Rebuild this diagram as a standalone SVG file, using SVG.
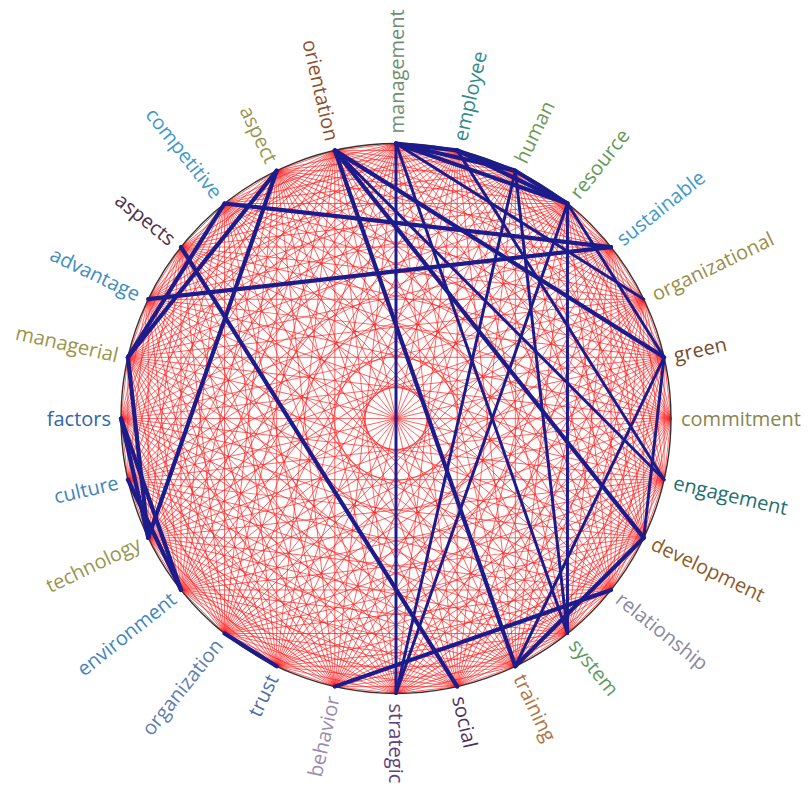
<svg xmlns="http://www.w3.org/2000/svg" xmlns:xlink="http://www.w3.org/1999/xlink" width="809" height="788" viewBox="0 0 809 788">
<style>
.mesh line{stroke:#ff1a1a;stroke-opacity:0.7;stroke-width:0.9}
.edge{stroke:#1c1c8c;stroke-width:4.2;stroke-linecap:round;fill:none}
.thin{stroke-width:3}
text{font-family:"Open Sans","Noto Sans","Liberation Sans",sans-serif;font-size:20px;dominant-baseline:central}
.s{text-anchor:start}.e{text-anchor:end}
</style>
<defs>
<g id="fan" class="mesh">
<line x1="396" y1="143.5" x2="457.19" y2="150.39"/>
<line x1="396" y1="143.5" x2="515.32" y2="170.73"/>
<line x1="396" y1="143.5" x2="567.46" y2="203.5"/>
<line x1="396" y1="143.5" x2="611" y2="247.04"/>
<line x1="396" y1="143.5" x2="643.77" y2="299.18"/>
<line x1="396" y1="143.5" x2="664.11" y2="357.31"/>
<line x1="396" y1="143.5" x2="671" y2="418.5"/>
<line x1="396" y1="143.5" x2="664.11" y2="479.69"/>
<line x1="396" y1="143.5" x2="643.77" y2="537.82"/>
<line x1="396" y1="143.5" x2="611" y2="589.96"/>
<line x1="396" y1="143.5" x2="567.46" y2="633.5"/>
<line x1="396" y1="143.5" x2="515.32" y2="666.27"/>
<line x1="396" y1="143.5" x2="457.19" y2="686.61"/>
</g>
<g id="dia" class="mesh"><line x1="396" y1="143.5" x2="396" y2="693.5"/></g>
</defs>
<rect width="809" height="788" fill="#ffffff"/>
<g id="mesh">
<use xlink:href="#fan"/>
<use xlink:href="#fan" transform="rotate(12.857 396 418.5)"/>
<use xlink:href="#fan" transform="rotate(25.714 396 418.5)"/>
<use xlink:href="#fan" transform="rotate(38.571 396 418.5)"/>
<use xlink:href="#fan" transform="rotate(51.429 396 418.5)"/>
<use xlink:href="#fan" transform="rotate(64.286 396 418.5)"/>
<use xlink:href="#fan" transform="rotate(77.143 396 418.5)"/>
<use xlink:href="#fan" transform="rotate(90 396 418.5)"/>
<use xlink:href="#fan" transform="rotate(102.857 396 418.5)"/>
<use xlink:href="#fan" transform="rotate(115.714 396 418.5)"/>
<use xlink:href="#fan" transform="rotate(128.571 396 418.5)"/>
<use xlink:href="#fan" transform="rotate(141.429 396 418.5)"/>
<use xlink:href="#fan" transform="rotate(154.286 396 418.5)"/>
<use xlink:href="#fan" transform="rotate(167.143 396 418.5)"/>
<use xlink:href="#fan" transform="rotate(180 396 418.5)"/>
<use xlink:href="#fan" transform="rotate(192.857 396 418.5)"/>
<use xlink:href="#fan" transform="rotate(205.714 396 418.5)"/>
<use xlink:href="#fan" transform="rotate(218.571 396 418.5)"/>
<use xlink:href="#fan" transform="rotate(231.429 396 418.5)"/>
<use xlink:href="#fan" transform="rotate(244.286 396 418.5)"/>
<use xlink:href="#fan" transform="rotate(257.143 396 418.5)"/>
<use xlink:href="#fan" transform="rotate(270 396 418.5)"/>
<use xlink:href="#fan" transform="rotate(282.857 396 418.5)"/>
<use xlink:href="#fan" transform="rotate(295.714 396 418.5)"/>
<use xlink:href="#fan" transform="rotate(308.571 396 418.5)"/>
<use xlink:href="#fan" transform="rotate(321.429 396 418.5)"/>
<use xlink:href="#fan" transform="rotate(334.286 396 418.5)"/>
<use xlink:href="#fan" transform="rotate(347.143 396 418.5)"/>
<use xlink:href="#dia"/>
<use xlink:href="#dia" transform="rotate(12.857 396 418.5)"/>
<use xlink:href="#dia" transform="rotate(25.714 396 418.5)"/>
<use xlink:href="#dia" transform="rotate(38.571 396 418.5)"/>
<use xlink:href="#dia" transform="rotate(51.429 396 418.5)"/>
<use xlink:href="#dia" transform="rotate(64.286 396 418.5)"/>
<use xlink:href="#dia" transform="rotate(77.143 396 418.5)"/>
<use xlink:href="#dia" transform="rotate(90 396 418.5)"/>
<use xlink:href="#dia" transform="rotate(102.857 396 418.5)"/>
<use xlink:href="#dia" transform="rotate(115.714 396 418.5)"/>
<use xlink:href="#dia" transform="rotate(128.571 396 418.5)"/>
<use xlink:href="#dia" transform="rotate(141.429 396 418.5)"/>
<use xlink:href="#dia" transform="rotate(154.286 396 418.5)"/>
<use xlink:href="#dia" transform="rotate(167.143 396 418.5)"/>
</g>
<circle cx="396" cy="418.5" r="275" fill="none" stroke="#3a3030" stroke-width="1.4"/>
<g id="connectors">
<line class="edge thin" x1="396" y1="143.5" x2="396" y2="693.5"/>
<line class="edge" x1="396" y1="143.5" x2="457.19" y2="150.39"/>
<line class="edge" x1="396" y1="143.5" x2="515.32" y2="170.73"/>
<line class="edge" x1="396" y1="143.5" x2="567.46" y2="203.5"/>
<line class="edge" x1="457.19" y1="150.39" x2="515.32" y2="170.73"/>
<line class="edge" x1="457.19" y1="150.39" x2="567.46" y2="203.5"/>
<line class="edge" x1="515.32" y1="170.73" x2="567.46" y2="203.5"/>
<line class="edge thin" x1="396" y1="143.5" x2="643.77" y2="299.18"/>
<line class="edge thin" x1="396" y1="143.5" x2="567.46" y2="633.5"/>
<line class="edge thin" x1="457.19" y1="150.39" x2="664.11" y2="479.69"/>
<line class="edge thin" x1="515.32" y1="170.73" x2="396" y2="693.5"/>
<line class="edge thin" x1="515.32" y1="170.73" x2="567.46" y2="633.5"/>
<line class="edge thin" x1="567.46" y1="203.5" x2="396" y2="693.5"/>
<line class="edge thin" x1="567.46" y1="203.5" x2="567.46" y2="633.5"/>
<line class="edge thin" x1="567.46" y1="203.5" x2="664.11" y2="357.31"/>
<line class="edge" x1="224.54" y1="203.5" x2="611" y2="247.04"/>
<line class="edge" x1="148.23" y1="299.18" x2="611" y2="247.04"/>
<line class="edge" x1="334.81" y1="150.39" x2="664.11" y2="357.31"/>
<line class="edge thin" x1="334.81" y1="150.39" x2="664.11" y2="479.69"/>
<line class="edge" x1="334.81" y1="150.39" x2="643.77" y2="537.82"/>
<line class="edge" x1="334.81" y1="150.39" x2="515.32" y2="666.27"/>
<line class="edge thin" x1="664.11" y1="357.31" x2="515.32" y2="666.27"/>
<line class="edge" x1="515.32" y1="666.27" x2="643.77" y2="537.82"/>
<line class="edge" x1="334.81" y1="686.61" x2="611" y2="589.96"/>
<line class="edge" x1="181" y1="247.04" x2="457.19" y2="686.61"/>
<line class="edge" x1="276.68" y1="170.73" x2="127.89" y2="357.31"/>
<line class="edge" x1="224.54" y1="203.5" x2="127.89" y2="357.31"/>
<line class="edge" x1="276.68" y1="170.73" x2="148.23" y2="537.82"/>
<line class="edge" x1="127.89" y1="357.31" x2="148.23" y2="537.82"/>
<line class="edge" x1="121" y1="418.5" x2="181" y2="589.96"/>
<line class="edge" x1="121" y1="418.5" x2="148.23" y2="537.82"/>
<line class="edge" x1="127.89" y1="479.69" x2="181" y2="589.96"/>
<line class="edge" x1="224.54" y1="633.5" x2="276.68" y2="666.27"/>
<line class="edge thin" x1="664.11" y1="357.31" x2="643.77" y2="537.82"/>
</g>
<g id="n0"><text class="s" fill="#6f8f70" transform="translate(396 133.5) rotate(-90)">management</text></g>
<g id="n1"><text class="s" fill="#2f8a8a" transform="translate(459.42 140.64) rotate(-77.14)">employee</text></g>
<g id="n2"><text class="s" fill="#6f9a55" transform="translate(519.66 161.72) rotate(-64.29)">human</text></g>
<g id="n3"><text class="s" fill="#5f9a5a" transform="translate(573.69 195.68) rotate(-51.43)">resource</text></g>
<g id="n4"><text class="s" fill="#3f9acb" transform="translate(618.82 240.81) rotate(-38.57)">sustainable</text></g>
<g id="n5"><text class="s" fill="#9a8e4a" transform="translate(652.78 294.84) rotate(-25.71)">organizational</text></g>
<g id="n6"><text class="s" fill="#7a4a2a" transform="translate(673.86 355.08) rotate(-12.86)">green</text></g>
<g id="n7"><text class="s" fill="#8a8550" transform="translate(681 418.5)">commitment</text></g>
<g id="n8"><text class="s" fill="#1f7070" transform="translate(673.86 481.92) rotate(12.86)">engagement</text></g>
<g id="n9"><text class="s" fill="#8f5a2a" transform="translate(652.78 542.16) rotate(25.71)">development</text></g>
<g id="n10"><text class="s" fill="#8a8aa0" transform="translate(618.82 596.19) rotate(38.57)">relationship</text></g>
<g id="n11"><text class="s" fill="#5a9a65" transform="translate(573.69 641.32) rotate(51.43)">system</text></g>
<g id="n12"><text class="s" fill="#b0743f" transform="translate(519.66 675.28) rotate(64.29)">training</text></g>
<g id="n13"><text class="s" fill="#4f2f5f" transform="translate(459.42 696.36) rotate(77.14)">social</text></g>
<g id="n14"><text class="s" fill="#5f3f7f" transform="translate(396 703.5) rotate(90)">strategic</text></g>
<g id="n15"><text class="e" fill="#9a8ab0" transform="translate(332.58 696.36) rotate(-77.14)">behavior</text></g>
<g id="n16"><text class="e" fill="#4f70aa" transform="translate(272.34 675.28) rotate(-64.29)">trust</text></g>
<g id="n17"><text class="e" fill="#5f80b0" transform="translate(218.31 641.32) rotate(-51.43)">organization</text></g>
<g id="n18"><text class="e" fill="#3f85bf" transform="translate(173.18 596.19) rotate(-38.57)">environment</text></g>
<g id="n19"><text class="e" fill="#999650" transform="translate(139.22 542.16) rotate(-25.71)">technology</text></g>
<g id="n20"><text class="e" fill="#3f85bb" transform="translate(118.14 481.92) rotate(-12.86)">culture</text></g>
<g id="n21"><text class="e" fill="#2f65aa" transform="translate(111 418.5)">factors</text></g>
<g id="n22"><text class="e" fill="#999648" transform="translate(118.14 355.08) rotate(12.86)">managerial</text></g>
<g id="n23"><text class="e" fill="#3f8cc2" transform="translate(139.22 294.84) rotate(25.71)">advantage</text></g>
<g id="n24"><text class="e" fill="#4f2f50" transform="translate(173.18 240.81) rotate(38.57)">aspects</text></g>
<g id="n25"><text class="e" fill="#3f98ca" transform="translate(218.31 195.68) rotate(51.43)">competitive</text></g>
<g id="n26"><text class="e" fill="#999650" transform="translate(272.34 161.72) rotate(64.29)">aspect</text></g>
<g id="n27"><text class="e" fill="#8f4f2f" transform="translate(332.58 140.64) rotate(77.14)">orientation</text></g>
</svg>
